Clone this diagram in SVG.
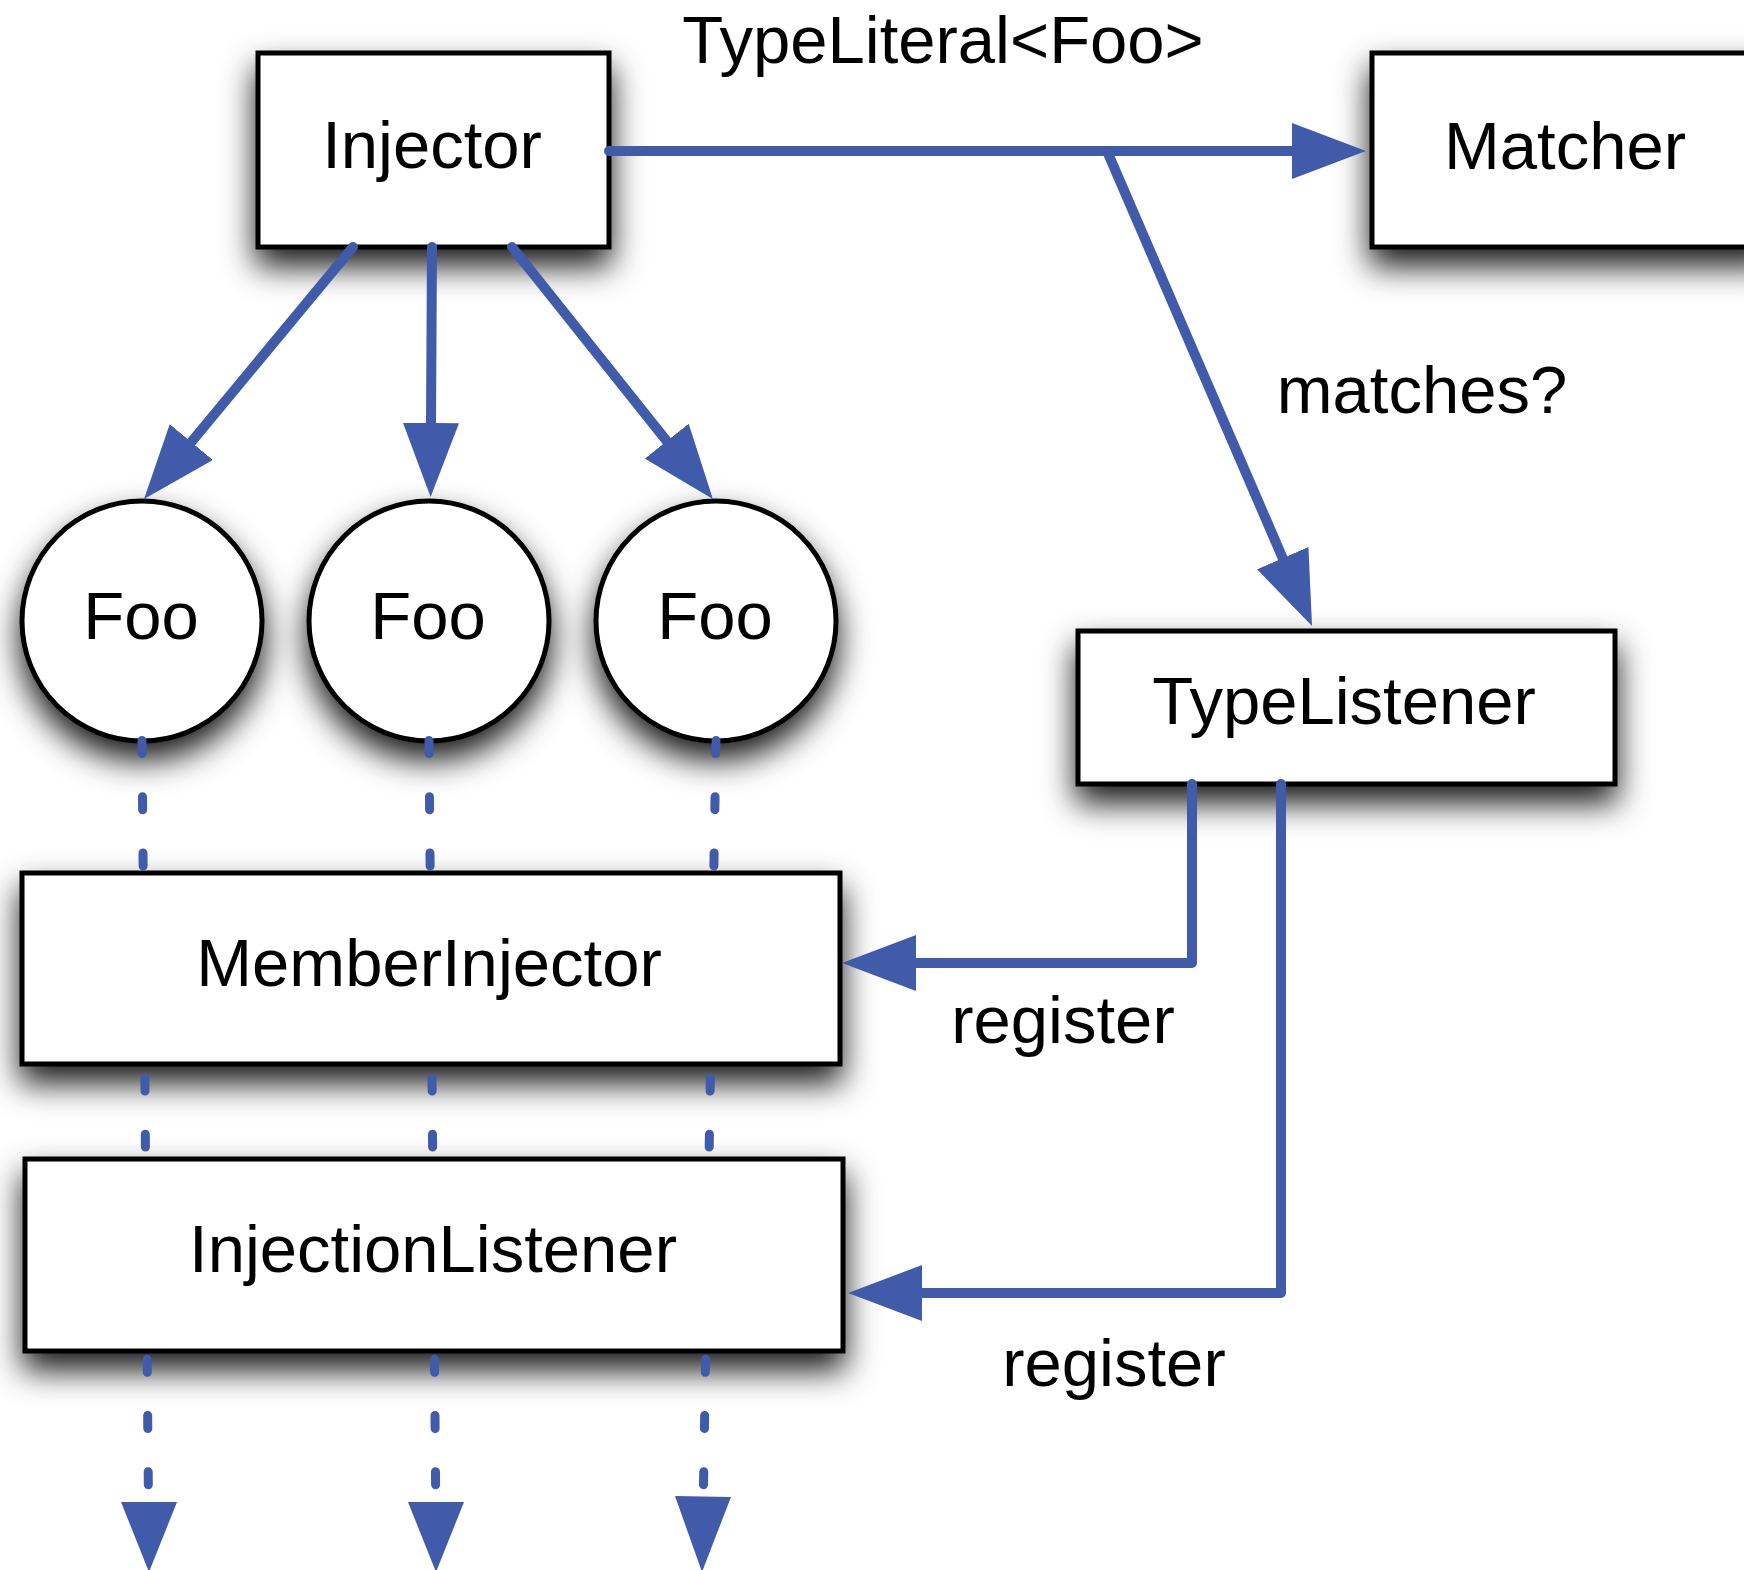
<svg xmlns="http://www.w3.org/2000/svg" width="1744" height="1570" viewBox="0 0 1744 1570">
  <style>
    text { font-family: "Liberation Sans", Arial, Helvetica, sans-serif; font-size: 67px; fill: #000; text-anchor: middle; }
    .box { fill: #fff; stroke: #000; stroke-width: 5; filter: url(#shadow); }
    .wire { fill: none; stroke: #3F5BA9; stroke-width: 10; stroke-linecap: round; stroke-linejoin: round; }
    .arrow { marker-end: url(#head); }
    .dots { fill: none; stroke: #3F5BA9; stroke-width: 9; stroke-linecap: round; stroke-dasharray: 13 43.25; }
    .tip { fill: #3F5BA9; }
  </style>
  <defs>
    <filter id="shadow" x="-30%" y="-40%" width="160%" height="200%">
      <feDropShadow dx="0" dy="17" stdDeviation="16" flood-color="#000" flood-opacity="0.9"/>
    </filter>
    <marker id="head" viewBox="0 0 74 56" markerWidth="74" markerHeight="56" markerUnits="userSpaceOnUse" refX="2" refY="28" orient="auto">
      <path d="M0,0 L74,28 L0,56 Z" fill="#3F5BA9"/>
    </marker>
  </defs>

  <rect width="1744" height="1570" fill="#fff"/>

  <!-- nodes -->
  <g id="injector">
    <rect class="box" x="258" y="53" width="351" height="194"/>
    <text x="432" y="168">Injector</text>
  </g>
  <g id="matcher">
    <rect class="box" x="1372" y="53" width="400" height="194"/>
    <text x="1565" y="169">Matcher</text>
  </g>
  <g id="foo1">
    <circle class="box" cx="142" cy="621" r="120"/>
    <text x="141" y="639">Foo</text>
  </g>
  <g id="foo2">
    <circle class="box" cx="429" cy="621" r="120"/>
    <text x="428" y="639">Foo</text>
  </g>
  <g id="foo3">
    <circle class="box" cx="716" cy="621" r="120"/>
    <text x="715" y="639">Foo</text>
  </g>
  <g id="typelistener">
    <rect class="box" x="1078" y="631" width="537" height="153"/>
    <text x="1344" y="724">TypeListener</text>
  </g>
  <g id="memberinjector">
    <rect class="box" x="22" y="873" width="818" height="191"/>
    <text x="429" y="986">MemberInjector</text>
  </g>
  <g id="injectionlistener">
    <rect class="box" x="25" y="1159" width="818" height="192"/>
    <text x="433" y="1272">InjectionListener</text>
  </g>

  <!-- connectors -->
  <g id="connectors">
    <!-- Injector to Matcher, with a branch down to TypeListener -->
    <path class="wire arrow" d="M609,151 H1294"/>
    <path class="wire arrow" d="M1107,151 L1283.5,560"/>

    <!-- Injector creates the Foo instances -->
    <path class="wire arrow" d="M353,247 L190,443.6"/>
    <path class="wire arrow" d="M432,247 L431,425"/>
    <path class="wire arrow" d="M512,247 L668,442.7"/>

    <!-- TypeListener registers the member injector and the injection listener -->
    <path class="wire arrow" d="M1192,784 V963 H914"/>
    <path class="wire arrow" d="M1281,784 V1293 H920"/>

    <!-- dotted flow from each Foo down through the injectors -->
    <path class="dots" d="M142,740.5 L143.1,866"/>
    <path class="dots" d="M144.9,1078 L145.4,1147"/>
    <path class="dots" d="M147.2,1359.25 L148.3,1485"/>
    <polygon class="tip" points="121,1502 177,1502 149,1572"/>

    <path class="dots" d="M429,740.5 L430.1,866"/>
    <path class="dots" d="M432,1078 L432.6,1147"/>
    <path class="dots" d="M434.5,1359.25 L435.6,1485"/>
    <polygon class="tip" points="408,1502 464,1502 436,1572"/>

    <path class="dots" d="M716,740.5 L713.9,866"/>
    <path class="dots" d="M710.3,1078 L709.2,1147"/>
    <path class="dots" d="M705.6,1359.25 L703.5,1485"/>
    <polygon class="tip" points="675,1496 731,1497 702,1572"/>
  </g>

  <!-- labels -->
  <text x="943" y="63">TypeLiteral&lt;Foo&gt;</text>
  <text x="1422" y="413">matches?</text>
  <text x="1063" y="1043">register</text>
  <text x="1114" y="1386">register</text>
</svg>
